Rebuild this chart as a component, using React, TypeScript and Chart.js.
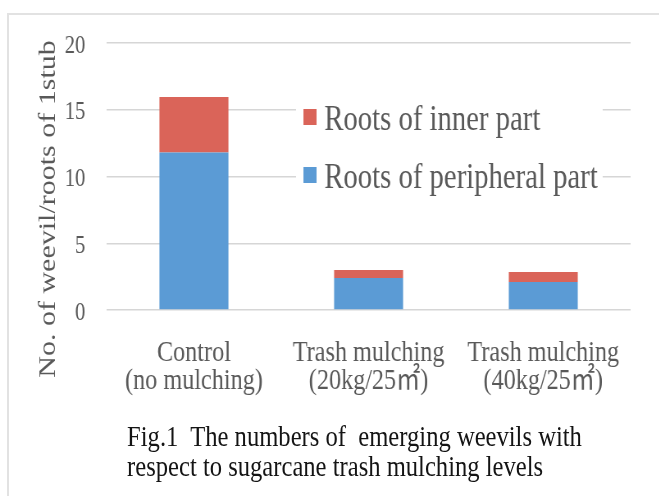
import React, { useEffect, useRef } from "react";
import { Chart, registerables } from "chart.js";

Chart.register(...registerables);

// ---- data ----
const categories: string[][] = [
  ["Control", "(no mulching)"],
  ["Trash mulching", "(20kg/25㎡)"],
  ["Trash mulching", "(40kg/25㎡)"],
];
const seriesNames = ["Roots of peripheral part", "Roots of inner part"];
const peripheral = [11.8, 2.4, 2.1];
const inner = [4.15, 0.6, 0.75];
const yTicks = [0, 5, 10, 15, 20];
const yTitle = "No. of weevil/roots of 1stub";
const captionLines = [
  "Fig.1  The numbers of  emerging weevils with",
  "respect to sugarcane trash mulching levels",
];
const seriesColors = ["#5B9BD5", "#DA6459"];

// ---- presentation ----
const SX = 0.82; // the reference is squeezed horizontally
const W = 804;
const H = 496;
const FONT = "'Liberation Serif', 'Noto Sans CJK JP', serif";
const GRAY = "#595959";

const overlayPlugin = {
  id: "overlay",
  afterDraw(chart: any) {
    const { ctx } = chart;
    // rotated y-axis title
    ctx.save();
    ctx.fillStyle = GRAY;
    ctx.font = `30px ${FONT}`;
    ctx.translate(67, 209);
    ctx.rotate(-Math.PI / 2);
    ctx.textAlign = "center";
    ctx.textBaseline = "alphabetic";
    ctx.fillText(yTitle, 0, 0);
    ctx.restore();

    // legend inside the plot area
    ctx.save();
    ctx.fillStyle = "#ffffff";
    ctx.fillRect(361, 88, 374, 112);
    const items = chart.data.datasets
      .map((d: any) => ({ label: d.label, color: d.backgroundColor }))
      .reverse();
    const baselines = [130, 188];
    ctx.font = `35px ${FONT}`;
    ctx.textAlign = "left";
    ctx.textBaseline = "alphabetic";
    items.forEach((it: any, i: number) => {
      const b = baselines[i];
      ctx.fillStyle = it.color;
      ctx.fillRect(370, b - 21, 16, 16);
      ctx.fillStyle = GRAY;
      ctx.fillText(it.label, 395.5, b);
    });
    ctx.restore();
  },
};

export default function App() {
  const canvasRef = useRef<HTMLCanvasElement | null>(null);

  useEffect(() => {
    if (!canvasRef.current) return;
    const chart = new Chart(canvasRef.current, {
      type: "bar",
      data: {
        labels: categories,
        datasets: [
          {
            label: seriesNames[0],
            data: peripheral,
            backgroundColor: seriesColors[0],
            barPercentage: 0.395,
            categoryPercentage: 1,
          },
          {
            label: seriesNames[1],
            data: inner,
            backgroundColor: seriesColors[1],
            barPercentage: 0.395,
            categoryPercentage: 1,
          },
        ],
      },
      options: {
        responsive: false,
        animation: false,
        devicePixelRatio: 1,
        layout: { padding: { top: 43, right: 35, bottom: 0, left: 0 } },
        plugins: {
          legend: { display: false },
          tooltip: { enabled: false },
          title: { display: false },
        },
        scales: {
          x: {
            stacked: true,
            grid: { display: false, drawTicks: false },
            border: { display: false },
            ticks: {
              color: GRAY,
              font: { family: FONT, size: 29.5, lineHeight: 0.95 },
              padding: 29,
              maxRotation: 0,
              autoSkip: false,
            },
            afterFit(scale: any) {
              scale.height = 186;
            },
          },
          y: {
            stacked: true,
            min: 0,
            max: 20,
            afterBuildTicks(scale: any) {
              scale.ticks = yTicks.map((v) => ({ value: v }));
            },
            ticks: {
              color: GRAY,
              font: { family: FONT, size: 25 },
              padding: 26,
              labelOffset: 3,
            },
            grid: { color: "#d6d6d6", lineWidth: 1.5, drawTicks: false },
            border: { display: false },
            title: { display: false, text: yTitle },
            afterFit(scale: any) {
              scale.width = 130;
            },
          },
        },
      },
      plugins: [overlayPlugin],
    });
    return () => chart.destroy();
  }, []);

  return (
    <div
      style={{
        position: "fixed",
        left: 0,
        top: 0,
        width: 659,
        height: 496,
        overflow: "hidden",
        background: "#ffffff",
      }}
    >
      <div
        style={{
          position: "absolute",
          left: 7,
          top: 13,
          width: 700,
          height: 600,
          border: "2px solid #e2e2e2",
        }}
      />
      <div
        style={{
          position: "absolute",
          left: 0,
          top: 0,
          width: W,
          height: H,
          transform: `scaleX(${SX})`,
          transformOrigin: "0 0",
        }}
      >
        <canvas ref={canvasRef} width={W} height={H} style={{ display: "block" }} />
        <div
          style={{
            position: "absolute",
            left: 155,
            top: 421,
            fontFamily: FONT,
            fontSize: 30,
            lineHeight: "30px",
            color: "#141414",
            whiteSpace: "pre",
          }}
        >
          {captionLines.map((l, i) => (
            <div key={i}>{l}</div>
          ))}
        </div>
      </div>
    </div>
  );
}
